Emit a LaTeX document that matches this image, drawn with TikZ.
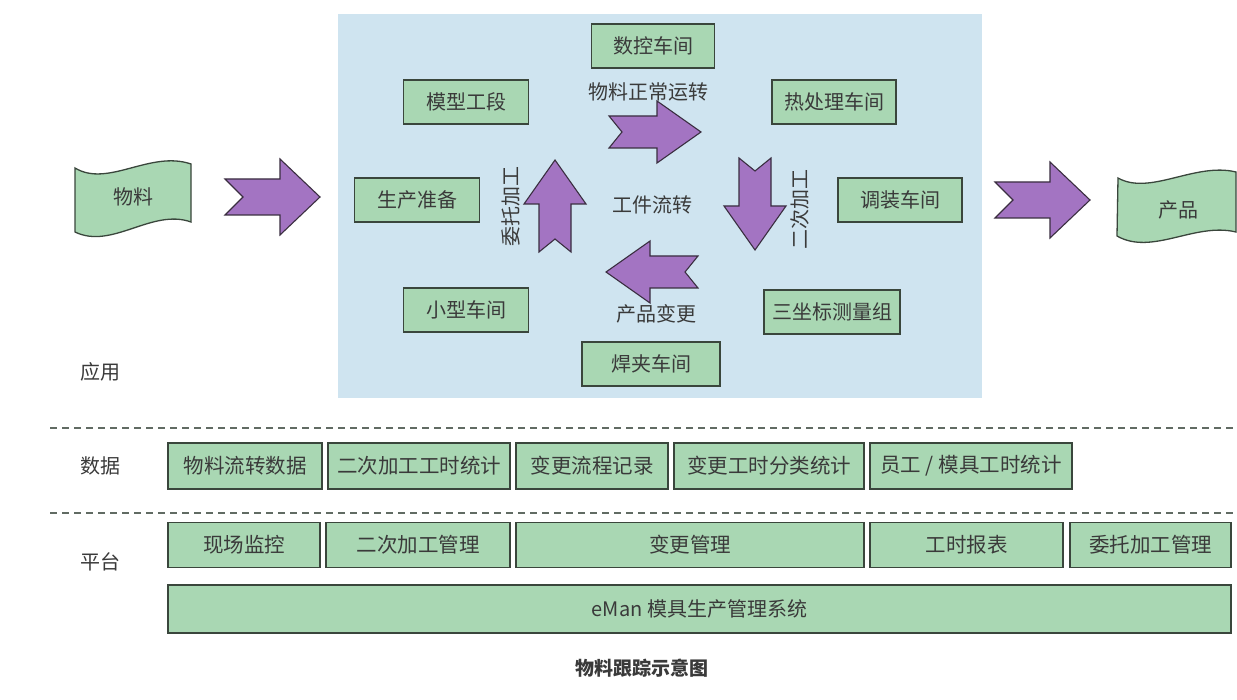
\documentclass[tikz,border=0pt]{standalone}
\usepackage{fontspec}
\newfontfamily\cjk{Noto Sans CJK SC}
\definecolor{panel}{HTML}{CFE4F0}
\definecolor{boxgreen}{HTML}{A9D7B3}
\definecolor{boxline}{HTML}{3A463C}
\definecolor{arrowfill}{HTML}{A374C2}
\definecolor{arrowline}{HTML}{3A2E40}
\definecolor{txt}{HTML}{3A3A3A}
\begin{document}
\begin{tikzpicture}[x=1pt,y=-1pt,
  box/.style={draw=boxline, fill=boxgreen, line width=1.3pt, minimum height=44pt, inner sep=0pt,
    font=\cjk\fontsize{20}{20}\selectfont, text=txt},
  rowbox/.style={box, minimum height=46pt, font=\cjk\fontsize{20.5}{20.5}\selectfont},
  lbl/.style={font=\cjk\fontsize{20}{20}\selectfont, text=txt, inner sep=0pt},
  flag/.style={draw=boxline, fill=boxgreen, line width=1.3pt},
  arrowstyle/.style={draw=arrowline, fill=arrowfill, line width=1.1pt, line join=miter},
  sep/.style={draw=boxline!80, line width=1.3pt, dash pattern=on 7pt off 5pt},
  bigarrow/.pic={\path[arrowstyle] (0,-16) -- (48,-16) -- (48,-31) -- (92,0) -- (48,31) -- (48,16) -- (0,16) -- (13,0) -- cycle;},
  widearrow/.pic={\path[arrowstyle] (0,-18) -- (55,-18) -- (55,-38) -- (95,0) -- (55,38) -- (55,18) -- (0,18) -- (18,0) -- cycle;}
]
\useasboundingbox (0,0) rectangle (1237,700);
\fill[white] (0,0) rectangle (1237,700);
% application panel
\fill[panel] (338,14) rectangle (982,398);

% panel boxes
\node[box, minimum width=123pt] (nc) at (653,46) {数控车间};
\node[box, minimum width=125pt] (mx) at (466,102) {模型工段};
\node[box, minimum width=124pt] (rcl) at (834,102) {热处理车间};
\node[box, minimum width=125pt] (sc) at (417,200) {生产准备};
\node[box, minimum width=124pt] (tz) at (900,200) {调装车间};
\node[box, minimum width=125pt] (xx) at (466,310) {小型车间};
\node[box, minimum width=136pt] (szb) at (832,312) {三坐标测量组};
\node[box, minimum width=138pt] (hj) at (651,364) {焊夹车间};

% panel labels
\node[lbl] (l1) at (648,92) {物料正常运转};
\node[lbl] (l2) at (652,205) {工件流转};
\node[lbl] (l3) at (656,314) {产品变更};
\node[lbl, rotate=90] (l4) at (511,207) {委托加工};
\node[lbl, rotate=90] (l5) at (800,210) {二次加工};

% big arrows
\pic at (225,197) {widearrow};
\pic at (609,132) {bigarrow};
\pic[rotate=-90] at (755,158) {bigarrow};
\pic[rotate=180] at (698,272) {bigarrow};
\pic[rotate=90] at (555,252) {bigarrow};
\pic at (995,200) {widearrow};

% flags
\path[flag] (75,168) .. controls (108,188) and (150,150) .. (191,164) -- (191,222)
  .. controls (152,208) and (112,250) .. (75,232) -- cycle;
\node[lbl] (wl) at (133,197) {物料};
\path[flag] (1118,178) .. controls (1150,196) and (1195,162) .. (1236,172) -- (1236,232)
  .. controls (1195,222) and (1152,256) .. (1117,236) -- cycle;
\node[lbl] (cp) at (1178,210) {产品};

% layer labels
\node[lbl] (yy) at (100,372) {应用};
\node[lbl] (sj) at (100,466) {数据};
\node[lbl] (pt) at (100,562) {平台};

% dashed separators
\coordinate (d1a) at (50,428); \coordinate (d1b) at (1237,428);
\coordinate (d2a) at (50,513); \coordinate (d2b) at (1237,513);
\draw[sep] (d1a) -- (d1b);
\draw[sep] (d2a) -- (d2b);

% data row
\node[rowbox, minimum width=154pt] (r1) at (245,466) {物料流转数据};
\node[rowbox, minimum width=182pt] (r2) at (419,466) {二次加工工时统计};
\node[rowbox, minimum width=152pt] (r3) at (592,466) {变更流程记录};
\node[rowbox, minimum width=190pt] (r4) at (769,466) {变更工时分类统计};
\node[rowbox, minimum width=202pt] (r5) at (971,466) {员工 / 模具工时统计};

% platform row
\node[rowbox, minimum height=45pt, minimum width=152pt] (p1) at (244,545) {现场监控};
\node[rowbox, minimum height=45pt, minimum width=184pt] (p2) at (418,545) {二次加工管理};
\node[rowbox, minimum height=45pt, minimum width=348pt] (p3) at (690,545) {变更管理};
\node[rowbox, minimum height=45pt, minimum width=193pt] (p4) at (966.5,545) {工时报表};
\node[rowbox, minimum height=45pt, minimum width=161pt] (p5) at (1150.5,545) {委托加工管理};
\node[rowbox, minimum height=48pt, minimum width=1063pt, font=\cjk\fontsize{20}{20}\selectfont] (em) at (699.5,609) {eMan 模具生产管理系统};

% caption
\node[lbl, font=\cjk\bfseries\fontsize{19}{19}\selectfont] (cap) at (642,668) {物料跟踪示意图};
\end{tikzpicture}
\end{document}
